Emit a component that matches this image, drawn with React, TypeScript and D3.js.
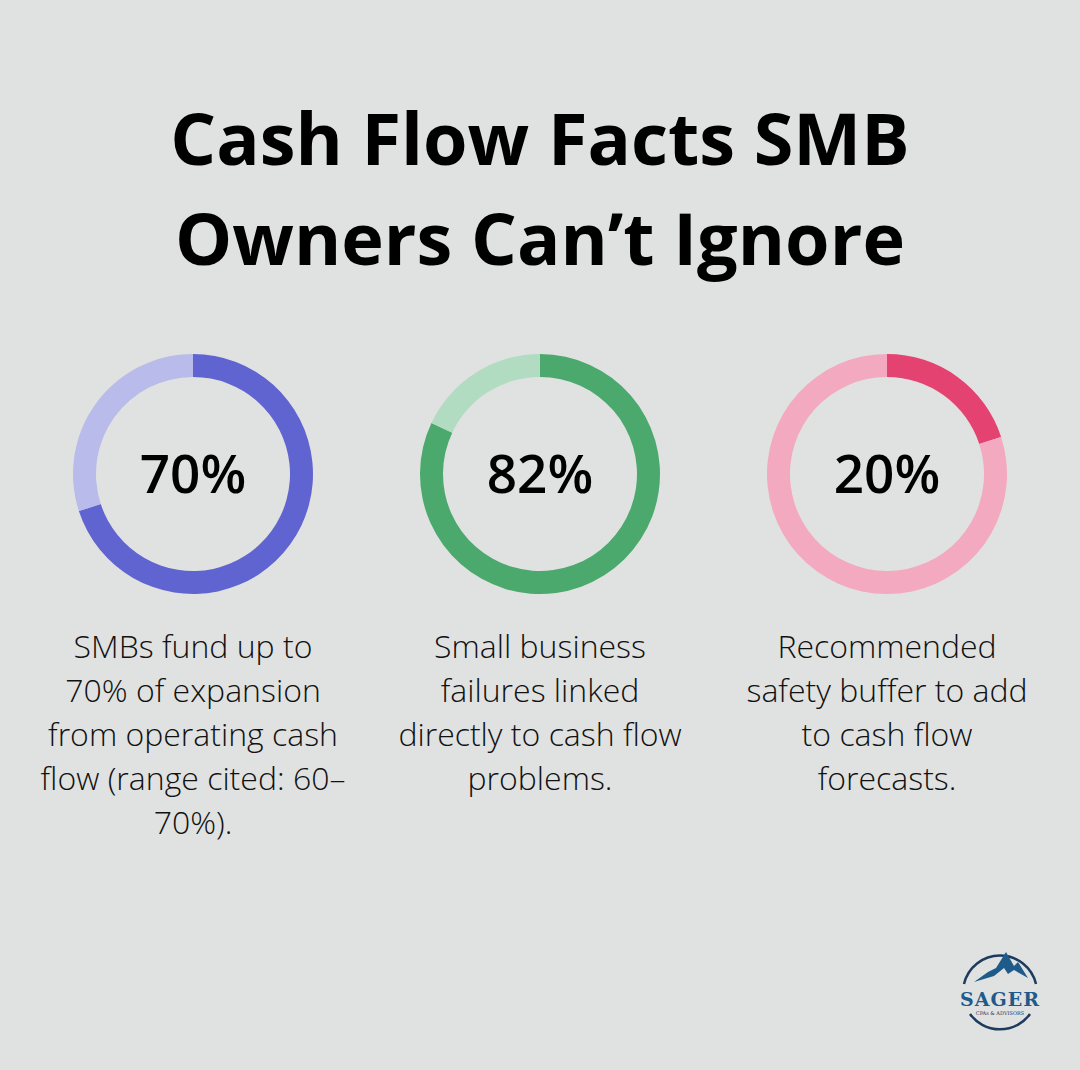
import React from "react";
import * as d3 from "d3";

const titleLines = ["Cash Flow Facts SMB", "Owners Can\u2019t Ignore"];
const values = [70, 82, 20];
const labels = ["70%", "82%", "20%"];
const darkColors = ["#6064d0", "#4ca96d", "#e44372"];
const lightColors = ["#b9bbea", "#b2dcc1", "#f3a9bf"];
const descriptions = [
  ["SMBs fund up to", "70% of expansion", "from operating cash", "flow (range cited: 60\u2013", "70%)."],
  ["Small business", "failures linked", "directly to cash flow", "problems."],
  ["Recommended", "safety buffer to add", "to cash flow", "forecasts."],
];

const W = 1080;
const H = 1070;

export default function App() {
  const x = d3.scalePoint<number>().domain([0, 1, 2]).range([193, 887]);
  const arc = d3.arc<any>().innerRadius(97).outerRadius(120);
  const pie = d3.pie<number>().sort(null).value((d) => d);
  const font = "'Open Sans', sans-serif";
  return (
    <svg width={W} height={H} style={{ position: "absolute", left: 0, top: 0 }}>
      <rect width={W} height={H} fill="#e0e2e1" />
      {titleLines.map((t, i) => (
        <text key={i} x={540} y={165 + i * 100} textAnchor="middle" fontFamily={font} fontWeight={700} fontSize={72} fill="#000">
          {t}
        </text>
      ))}
      {values.map((v, i) => {
        const arcs = pie([v, 100 - v]);
        return (
          <g key={i} transform={`translate(${x(i)},474)`}>
            {arcs.map((a, j) => (
              <path key={j} d={arc(a) as string} fill={j === 0 ? darkColors[i] : lightColors[i]} />
            ))}
            <text y={19} textAnchor="middle" fontFamily={font} fontWeight={600} fontSize={53} fill="#000">
              {labels[i]}
            </text>
            {descriptions[i].map((l, k) => (
              <text key={k} y={184 + k * 44} textAnchor="middle" fontFamily={font} fontWeight={300} fontSize={32} fill="#111">
                {l}
              </text>
            ))}
          </g>
        );
      })}
      <g transform="translate(1000,992)">
        <path d="M -36 -8 A 37 37 0 0 1 36 -8" fill="none" stroke="#1d3b5e" strokeWidth={2.5} />
        <path d="M -30 22 A 37 37 0 0 0 30 22" fill="none" stroke="#1d3b5e" strokeWidth={2.5} />
        <path d="M -26 -10 L -12 -20 L -4 -24 L 6 -40 L 14 -26 L 18 -30 L 28 -14 L 14 -22 L 8 -18 L 4 -24 L -6 -16 Z" fill="#1e5a8a" />
        <text x={0} y={14} textAnchor="middle" fontFamily="'DejaVu Serif', serif" fontWeight={700} fontSize={19} fill="#1e5a8a" letterSpacing={1}>SAGER</text>
        <text x={0} y={23} textAnchor="middle" fontFamily="'DejaVu Serif', serif" fontSize={5} fill="#1d3b5e">CPAs &amp; ADVISORS</text>
      </g>
    </svg>
  );
}
